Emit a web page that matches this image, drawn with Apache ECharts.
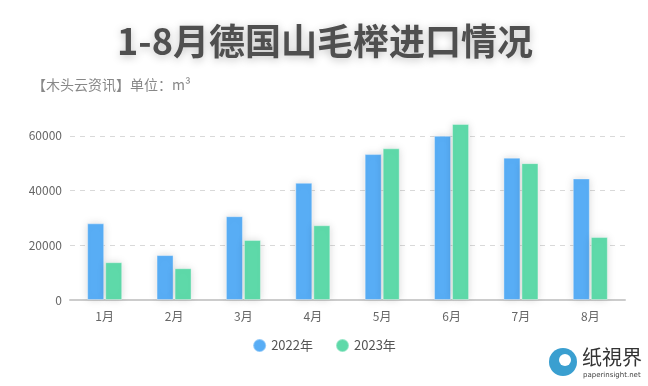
<!DOCTYPE html>
<html><head><meta charset="utf-8">
<script src="https://cdn.jsdelivr.net/npm/echarts@6/dist/echarts.min.js"></script>
<style>html,body{margin:0;padding:0;background:#fff}#c{width:648px;height:386px}</style>
</head><body><div id="c"></div>
<script>
const categories = ['1月','2月','3月','4月','5月','6月','7月','8月'];
const seriesNames = ['2022年','2023年'];
const values2022 = [28000, 16400, 30600, 42800, 53300, 60000, 52000, 44400];
const values2023 = [13800, 11600, 21900, 27300, 55400, 64300, 50000, 23000];
const yTicks = [0, 20000, 40000, 60000];

const FONT = '"Noto Sans CJK SC","Noto Sans",sans-serif';
const chart = echarts.init(document.getElementById('c'), null, {renderer:'canvas'});
const barStyle = (c) => ({
  color: c, borderColor: 'rgba(255,255,255,0.35)', borderWidth: 1,
  shadowColor: 'rgba(0,0,0,0.15)', shadowBlur: 8, shadowOffsetY: 0
});
chart.setOption({
  backgroundColor: '#fff',
  animation: false,
  title: [{
    text: '1-8月德国山毛榉进口情况', left: 320, textAlign: 'center', top: 18,
    textStyle: {fontFamily: FONT, fontSize: 36, fontWeight: 'bold', color: '#4f4f4f',
      textShadowColor: 'rgba(0,0,0,0.25)', textShadowBlur: 8, textShadowOffsetY: 2}
  },{
    text: '【木头云资讯】单位：m³', left: 27, top: 73,
    textStyle: {fontFamily: FONT, fontSize: 14, fontWeight: 'normal', color: '#888'}
  }],
  legend: {
    data: seriesNames, bottom: 28, left: 'center', icon: 'circle', itemWidth: 13, itemHeight: 13,
    itemGap: 22, textStyle: {fontFamily: FONT, fontSize: 13, color: '#555'}
  },
  grid: {left: 70, right: 23, top: 81, bottom: 86},
  xAxis: {
    type: 'category', data: categories,
    axisLine: {lineStyle: {color: '#ccc', width: 2}},
    axisTick: {alignWithLabel: true, lineStyle: {color: '#ccc'}},
    axisLabel: {fontFamily: FONT, fontSize: 12, color: '#666', margin: 10}
  },
  yAxis: {
    type: 'value', min: 0, max: 80000, interval: 20000,
    axisLine: {show: false}, axisTick: {show: false},
    axisLabel: {fontFamily: FONT, fontSize: 12, color: '#666', margin: 8, showMaxLabel: false,
      formatter: v => yTicks.includes(v) ? String(v) : ''},
    splitLine: {showMaxLine: false, lineStyle: {type: [5, 5], color: '#d9d9d9'}}
  },
  series: [
    {name: seriesNames[0], type: 'bar', data: values2022, barWidth: 17, barGap: '6%', itemStyle: barStyle('#58adf5')},
    {name: seriesNames[1], type: 'bar', data: values2023, barWidth: 17, barGap: '6%', itemStyle: barStyle('#5ed9a9')}
  ],
  graphic: [
    {type: 'circle', shape: {cx: 563, cy: 362, r: 14}, style: {fill: '#3a9fd0'}},
    {type: 'circle', shape: {cx: 565, cy: 360, r: 6}, style: {fill: '#fff'}},
    {type: 'text', left: 582, top: 347, style: {text: '纸視界', font: '20px "Noto Sans CJK SC"', fill: '#333'}},
    {type: 'text', left: 583, top: 372, style: {text: 'paperinsight.net', font: '7px "DejaVu Sans"', fill: '#444'}}
  ]
});
</script></body></html>
